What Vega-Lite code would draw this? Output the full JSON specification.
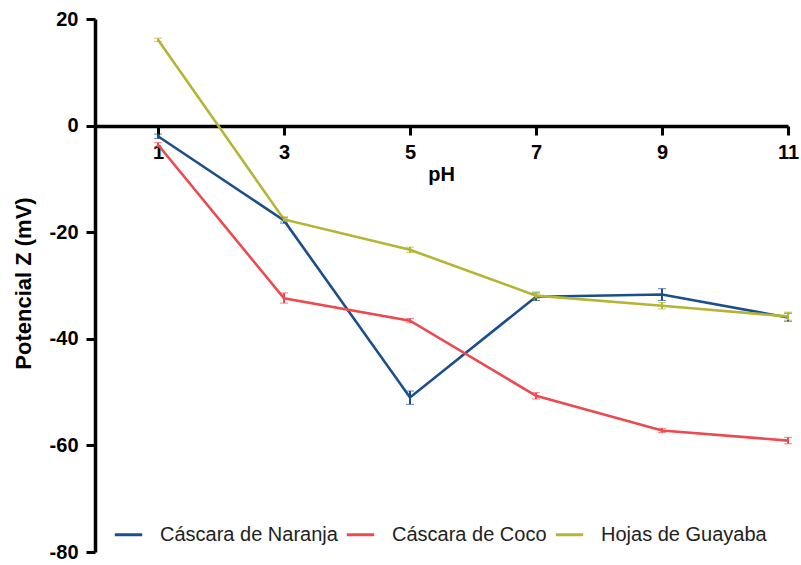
{
  "$schema": "https://vega.github.io/schema/vega-lite/v6.json",
  "width": 693,
  "height": 533,
  "autosize": "none",
  "padding": {"left": 95, "top": 19, "right": 13, "bottom": 13},
  "config": {
    "view": {"stroke": null},
    "font": "Liberation Sans"
  },
  "data": {
    "values": [
      {"ph": 1, "serie": "Cáscara de Naranja", "z": -2.0, "lo": -2.4, "hi": -1.6},
      {"ph": 3, "serie": "Cáscara de Naranja", "z": -17.8, "lo": -18.3, "hi": -17.3},
      {"ph": 5, "serie": "Cáscara de Naranja", "z": -51.0, "lo": -52.3, "hi": -49.8},
      {"ph": 7, "serie": "Cáscara de Naranja", "z": -32.1, "lo": -32.8, "hi": -31.4},
      {"ph": 9, "serie": "Cáscara de Naranja", "z": -31.7, "lo": -32.8, "hi": -30.6},
      {"ph": 11, "serie": "Cáscara de Naranja", "z": -36.0, "lo": -36.7, "hi": -35.2},
      {"ph": 1, "serie": "Cáscara de Coco", "z": -3.6, "lo": -4.0, "hi": -3.2},
      {"ph": 3, "serie": "Cáscara de Coco", "z": -32.4, "lo": -33.3, "hi": -31.4},
      {"ph": 5, "serie": "Cáscara de Coco", "z": -36.6, "lo": -37.0, "hi": -36.2},
      {"ph": 7, "serie": "Cáscara de Coco", "z": -50.7, "lo": -51.3, "hi": -50.1},
      {"ph": 9, "serie": "Cáscara de Coco", "z": -57.2, "lo": -57.6, "hi": -56.8},
      {"ph": 11, "serie": "Cáscara de Coco", "z": -59.1, "lo": -59.7, "hi": -58.5},
      {"ph": 1, "serie": "Hojas de Guayaba", "z": 16.1, "lo": 15.8, "hi": 16.4},
      {"ph": 3, "serie": "Hojas de Guayaba", "z": -17.6, "lo": -18.0, "hi": -17.1},
      {"ph": 5, "serie": "Hojas de Guayaba", "z": -23.3, "lo": -23.8, "hi": -22.8},
      {"ph": 7, "serie": "Hojas de Guayaba", "z": -31.9, "lo": -32.4, "hi": -31.2},
      {"ph": 9, "serie": "Hojas de Guayaba", "z": -33.8, "lo": -34.4, "hi": -33.2},
      {"ph": 11, "serie": "Hojas de Guayaba", "z": -35.8, "lo": -36.5, "hi": -35.0}
    ]
  },
  "encoding": {
    "x": {
      "field": "ph",
      "type": "quantitative",
      "title": "pH",
      "scale": {"domain": [0, 11], "nice": false, "zero": true},
      "axis": {
        "values": [1, 3, 5, 7, 9, 11],
        "offset": -426,
        "grid": false,
        "domainColor": "black",
        "domainWidth": 3.5,
        "tickColor": "black",
        "tickWidth": 3,
        "tickSize": 9,
        "labelFontSize": 20,
        "labelFontWeight": "bold",
        "labelColor": "black",
        "labelPadding": 7,
        "labelFlush": false,
        "titleFontSize": 20,
        "titleFontWeight": "bold",
        "titleColor": "black",
        "titleX": 346,
        "titleY": 48,
        "titleBaseline": "middle",
        "titleAlign": "center"
      }
    },
    "color": {
      "field": "serie",
      "type": "nominal",
      "scale": {
        "domain": ["Cáscara de Naranja", "Cáscara de Coco", "Hojas de Guayaba"],
        "range": ["#1c4e8c", "#ec4a4e", "#b4b535"]
      },
      "legend": {
        "title": null,
        "orient": "none",
        "direction": "horizontal",
        "legendX": 18,
        "legendY": 500,
        "symbolType": "stroke",
        "symbolSize": 750,
        "symbolStrokeWidth": 3,
        "symbolOpacity": 1,
        "labelFontSize": 20,
        "labelLimit": 400,
        "labelColor": "#222222",
        "labelOffset": 16,
        "columnPadding": 2
      }
    }
  },
  "layer": [
    {
      "mark": {"type": "line", "strokeWidth": 2.6},
      "encoding": {
        "y": {
          "field": "z",
          "type": "quantitative",
          "title": "Potencial Z (mV)",
          "scale": {"domain": [-80, 20], "nice": false},
          "axis": {
            "values": [-80, -60, -40, -20, 0, 20],
            "labelExpr": "datum.value + ''",
            "grid": false,
            "domainColor": "black",
            "domainWidth": 3.5,
            "tickColor": "black",
            "tickWidth": 3,
            "tickSize": 9,
            "labelFontSize": 20,
            "labelFontWeight": "bold",
            "labelColor": "black",
            "labelPadding": 8,
            "titleFontSize": 22,
            "titleFontWeight": "bold",
            "titleColor": "black",
            "titleX": -72,
            "titleY": 264,
            "titleAngle": -90,
            "titleBaseline": "middle",
            "titleAlign": "center"
          }
        }
      }
    },
    {
      "mark": {"type": "errorbar", "ticks": {"size": 8, "strokeWidth": 2}, "rule": {"strokeWidth": 2}},
      "encoding": {
        "y": {"field": "lo", "type": "quantitative", "title": "Potencial Z (mV)"},
        "y2": {"field": "hi"}
      }
    }
  ]
}
